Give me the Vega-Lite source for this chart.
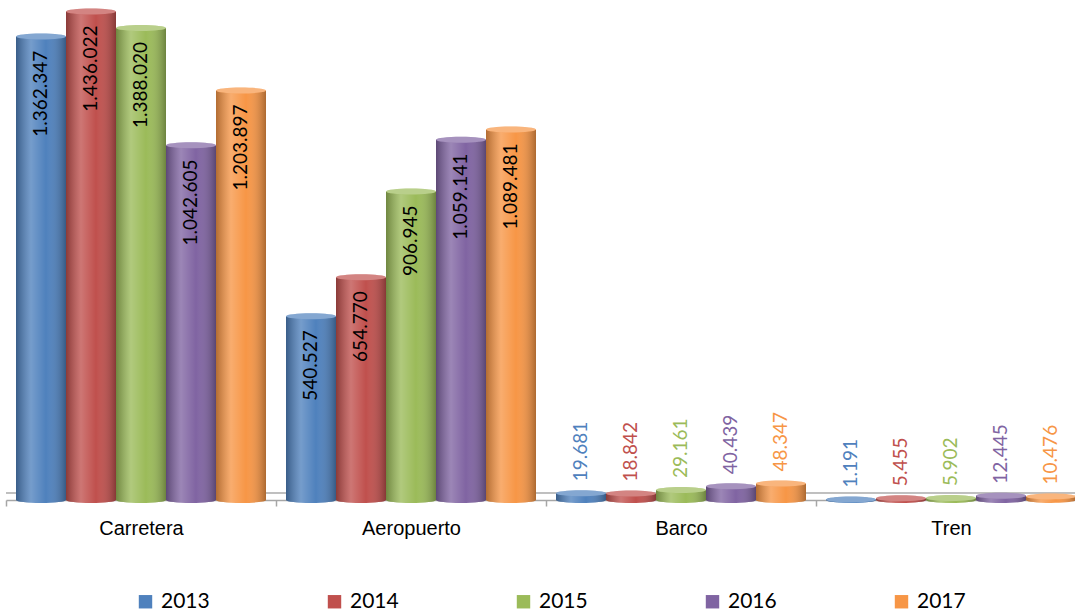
{
  "$schema": "https://vega.github.io/schema/vega-lite/v6.json",
  "width": 1069,
  "height": 500,
  "autosize": {"type": "none"},
  "padding": {"left": 6, "top": 0, "right": 0, "bottom": 113},
  "background": "white",
  "config": {
    "locale": {"number": {"decimal": ",", "thousands": ".", "grouping": [3], "currency": ["", "€"]}},
    "view": {"stroke": null},
    "axis": {
      "domainColor": "#A6A6A6",
      "domainWidth": 1.5,
      "tickColor": "#A6A6A6",
      "tickWidth": 1.5,
      "tickSize": 6,
      "labelFont": "Liberation Sans",
      "labelFontSize": 20,
      "labelColor": "#000000",
      "labelPadding": 12
    },
    "legend": {
      "orient": "none",
      "legendX": 129,
      "legendY": 591,
      "direction": "horizontal",
      "columns": 5,
      "columnPadding": 114,
      "padding": 0,
      "symbolType": "square",
      "symbolSize": 180,
      "symbolStrokeWidth": 0,
      "symbolOpacity": 1,
      "labelFont": "Lato",
      "labelFontSize": 21,
      "labelColor": "#000000",
      "labelOffset": 5,
      "title": null
    }
  },
  "data": {
    "values": [
      {"mode": "Carretera", "year": "2013", "value": 1362347},
      {"mode": "Carretera", "year": "2014", "value": 1436022},
      {"mode": "Carretera", "year": "2015", "value": 1388020},
      {"mode": "Carretera", "year": "2016", "value": 1042605},
      {"mode": "Carretera", "year": "2017", "value": 1203897},
      {"mode": "Aeropuerto", "year": "2013", "value": 540527},
      {"mode": "Aeropuerto", "year": "2014", "value": 654770},
      {"mode": "Aeropuerto", "year": "2015", "value": 906945},
      {"mode": "Aeropuerto", "year": "2016", "value": 1059141},
      {"mode": "Aeropuerto", "year": "2017", "value": 1089481},
      {"mode": "Barco", "year": "2013", "value": 19681},
      {"mode": "Barco", "year": "2014", "value": 18842},
      {"mode": "Barco", "year": "2015", "value": 29161},
      {"mode": "Barco", "year": "2016", "value": 40439},
      {"mode": "Barco", "year": "2017", "value": 48347},
      {"mode": "Tren", "year": "2013", "value": 1191},
      {"mode": "Tren", "year": "2014", "value": 5455},
      {"mode": "Tren", "year": "2015", "value": 5902},
      {"mode": "Tren", "year": "2016", "value": 12445},
      {"mode": "Tren", "year": "2017", "value": 10476}
    ]
  },
  "layer": [
    {
      "mark": {"type": "rule", "color": "#BFBFBF", "strokeWidth": 1.5},
      "encoding": {
        "y": {"datum": 21000, "type": "quantitative", "scale": {"domain": [0, 1470000], "nice": false}, "axis": null}
      }
    },
    {
      "encoding": {
        "x": {
          "field": "mode",
          "type": "nominal",
          "sort": ["Carretera", "Aeropuerto", "Barco", "Tren"],
          "scale": {"range": [0, 1080], "paddingInner": 0, "paddingOuter": 0},
          "axis": {"title": null, "labelAngle": 0, "tickBand": "extent"}
        },
        "xOffset": {"field": "year", "type": "nominal", "scale": {"paddingInner": 0, "paddingOuter": 0.2}},
        "y": {"field": "value", "type": "quantitative", "scale": {"domain": [0, 1470000], "nice": false}, "axis": null}
      },
      "layer": [
        {
          "mark": {"type": "point", "shape": "M-1,0A1,0.12,0,1,0,1,0A1,0.12,0,1,0,-1,0Z", "size": 2500, "filled": true, "opacity": 1},
          "encoding": {
            "y": {"datum": 0, "type": "quantitative"},
            "color": {"field": "year", "type": "nominal", "scale": {"domain": ["2013", "2014", "2015", "2016", "2017"], "range": ["#4F81BD", "#C0504D", "#9BBB59", "#8064A2", "#F79646"]}}
          }
        },
        {
          "mark": {"type": "point", "shape": "M-1,0A1,0.12,0,1,0,1,0A1,0.12,0,1,0,-1,0Z", "size": 2500, "filled": true, "opacity": 1,
            "fill": {"gradient": "linear", "x1": 0, "x2": 1, "y1": 0, "y2": 0, "stops": [
              {"offset": 0, "color": "rgba(0,0,0,0.28)"},
              {"offset": 0.3, "color": "rgba(255,255,255,0.22)"},
              {"offset": 0.6, "color": "rgba(255,255,255,0.0)"},
              {"offset": 1, "color": "rgba(0,0,0,0.3)"}]}},
          "encoding": {"y": {"datum": 0, "type": "quantitative"}}
        },
        {
          "mark": {"type": "bar"},
          "encoding": {
            "color": {"field": "year", "type": "nominal", "scale": {"domain": ["2013", "2014", "2015", "2016", "2017"], "range": ["#4F81BD", "#C0504D", "#9BBB59", "#8064A2", "#F79646"]}}
          }
        },
        {
          "mark": {"type": "bar", "stroke": null,
            "fill": {"gradient": "linear", "x1": 0, "x2": 1, "y1": 0, "y2": 0, "stops": [
              {"offset": 0, "color": "rgba(0,0,0,0.28)"},
              {"offset": 0.3, "color": "rgba(255,255,255,0.22)"},
              {"offset": 0.6, "color": "rgba(255,255,255,0.0)"},
              {"offset": 1, "color": "rgba(0,0,0,0.3)"}]}}
        },
        {
          "mark": {"type": "point", "shape": "M-1,0A1,0.12,0,1,0,1,0A1,0.12,0,1,0,-1,0Z", "size": 2500, "filled": true, "opacity": 1},
          "encoding": {
            "color": {"field": "year", "type": "nominal"}
          }
        },
        {
          "mark": {"type": "point", "shape": "M-1,0A1,0.12,0,1,0,1,0A1,0.12,0,1,0,-1,0Z", "size": 2500, "filled": true, "color": "white", "opacity": 0.3}
        },
        {
          "transform": [{"filter": "datum.value >= 100000"}],
          "mark": {"type": "text", "angle": 270, "align": "right", "baseline": "middle", "dx": -14, "font": "Lato", "fontSize": 19, "color": "#000000"},
          "encoding": {"text": {"field": "value", "type": "quantitative", "format": ",d"}}
        },
        {
          "transform": [{"filter": "datum.value < 100000"}],
          "mark": {"type": "text", "angle": 270, "align": "left", "baseline": "middle", "dx": 12, "font": "Lato", "fontSize": 19},
          "encoding": {
            "text": {"field": "value", "type": "quantitative", "format": ",d"},
            "color": {"field": "year", "type": "nominal"}
          }
        }
      ]
    }
  ]
}
